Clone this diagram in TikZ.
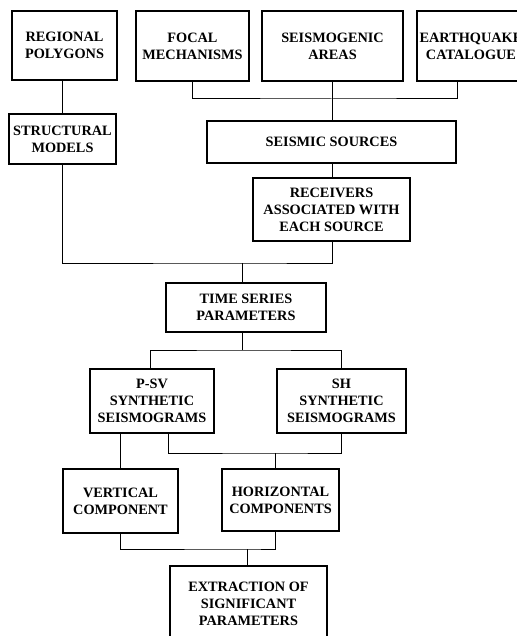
\documentclass[tikz,border=0pt]{standalone}
\usepackage{fontspec}
\setmainfont{Liberation Serif}
\usepackage{tikz}

\tikzset{
	block/.style={draw, line width=1.6pt, align=center, inner sep=2pt,
		font=\bfseries\fontsize{14.3}{17}\selectfont},
	link/.style={draw, line width=1pt}
}

\begin{document}
\begin{tikzpicture}[x=1pt,y=-1pt]
	\useasboundingbox (0,0) rectangle (516,636);
	\node (regional) at (64.5,45.5) [block, minimum width=105pt, minimum height=69pt] {REGIONAL\\POLYGONS};
	\node (focal) at (192.5,46) [block, minimum width=113pt, minimum height=70pt] {FOCAL\\MECHANISMS};
	\node (areas) at (332.5,46) [block, minimum width=141pt, minimum height=70pt] {SEISMOGENIC\\AREAS};
	\node (catalogue) at (471,46) [block, minimum width=108pt, minimum height=70pt] {EARTHQUAKE\\CATALOGUE};
	\node (structural) at (62.5,139) [block, minimum width=107pt, minimum height=50pt] {STRUCTURAL\\MODELS};
	\node (sources) at (331.5,142) [block, minimum width=249pt, minimum height=42pt] {SEISMIC SOURCES};
	\node (receivers) at (331.5,209.5) [block, minimum width=157pt, minimum height=63pt] {RECEIVERS\\ASSOCIATED WITH\\EACH SOURCE};
	\node (timeseries) at (246,307.5) [block, minimum width=160pt, minimum height=49pt] {TIME SERIES\\PARAMETERS};
	\node (psv) at (152,401) [block, minimum width=124pt, minimum height=64pt] {P-SV\\SYNTHETIC\\SEISMOGRAMS};
	\node (sh) at (341.5,401) [block, minimum width=129pt, minimum height=64pt] {SH\\SYNTHETIC\\SEISMOGRAMS};
	\node (vertical) at (120.5,501) [block, minimum width=115pt, minimum height=64pt] {VERTICAL\\COMPONENT};
	\node (horizontal) at (280.5,500) [block, minimum width=117pt, minimum height=62pt] {HORIZONTAL\\COMPONENTS};
	\node (extraction) at (248.5,604) [block, minimum width=157pt, minimum height=76pt] {EXTRACTION OF\\SIGNIFICANT\\PARAMETERS};

	% junction points
	\coordinate (srcbus) at (332,99);
	\coordinate (timebus) at (242,263);
	\coordinate (synbus) at (242,350);
	\coordinate (horbus) at (275,453);
	\coordinate (extbus) at (247,549);

	\draw[link] (regional.south -| structural.north) -- (structural.north);
	\draw[link] (focal.south) |- (srcbus) -| ([xshift=-14pt]catalogue.south);
	\draw[link] (areas.south -| srcbus) -- (sources.north -| srcbus);
	\draw[link] (sources.south -| srcbus) -- (receivers.north -| srcbus);
	\draw[link] (structural.south) |- (timebus) -| (receivers.south -| srcbus);
	\draw[link] (timebus) -- (timebus |- timeseries.north);
	\draw[link] (timeseries.south -| synbus) -- (synbus);
	\draw[link] ([xshift=-2pt]psv.north) |- (synbus) -| (sh.north);
	\draw[link] (psv.south -| vertical.north) -- (vertical.north);
	\draw[link] ([xshift=16pt]psv.south) |- (horbus) -| (sh.south);
	\draw[link] (horbus) -- (horbus |- horizontal.north);
	\draw[link] (vertical.south) |- (extbus) -| ([xshift=-5.5pt]horizontal.south);
	\draw[link] (extbus) -- (extbus |- extraction.north);
\end{tikzpicture}
\end{document}
